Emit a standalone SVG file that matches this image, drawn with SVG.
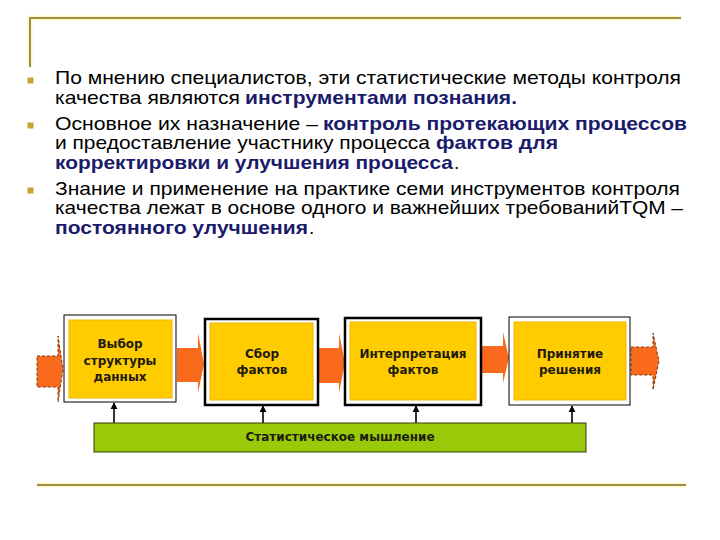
<svg xmlns="http://www.w3.org/2000/svg" width="720" height="540" viewBox="0 0 720 540">
  <defs>
    <style>
      .rule { stroke: #9A8E4A; stroke-width: 2; fill: none; }
      .glow { stroke: #FFF6B0; stroke-width: 5; fill: none; opacity: 0.7; }
      .bullet { fill: #C9A332; }
      .t { font-family: "Liberation Sans", Arial, sans-serif; font-size: 19px; fill: #000; }
      .b { font-family: "Liberation Sans", Arial, sans-serif; font-size: 19px; font-weight: bold; fill: #1B1B6B; }
      .outer { fill: #FFFFFF; stroke: #000; }
      .inner { fill: #FFCC00; stroke: #F2B500; stroke-width: 1; }
      .lbl { font-family: "DejaVu Sans", Verdana, sans-serif; font-size: 12px; font-weight: bold; fill: #1E1A10; text-anchor: middle; }
      .flow { fill: #F96A1C; }
      .dash { stroke: #7A3A14; stroke-width: 1; stroke-dasharray: 3 2; }
      .up { stroke: #000; stroke-width: 1.6; fill: none; marker-end: url(#ah); }
    </style>
    <marker id="ah" viewBox="0 0 10 10" refX="9" refY="5" markerWidth="4.5" markerHeight="4.5" orient="auto" markerUnits="strokeWidth">
      <path d="M0,0 L10,5 L0,10 Z" fill="#000"/>
    </marker>
  </defs>

  <rect x="0" y="0" width="720" height="540" fill="#FFFFFF"/>

  <!-- decorative rules -->
  <g id="rules">
    <path class="glow" d="M30,67 V18 H681"/>
    <path class="rule" d="M30,67 V18 H681"/>
    <line class="glow" x1="37" y1="485" x2="686" y2="485"/>
    <line class="rule" x1="37" y1="485" x2="686" y2="485"/>
  </g>

  <!-- bullets -->
  <g id="bullets">
    <rect class="bullet" x="27.5" y="77.5" width="6" height="6"/>
    <rect class="bullet" x="27.5" y="122.5" width="6" height="6"/>
    <rect class="bullet" x="27.5" y="187.5" width="6" height="6"/>
  </g>

  <!-- body text -->
  <g id="text">
    <text class="t" x="55" y="84" textLength="626" lengthAdjust="spacingAndGlyphs">По мнению специалистов, эти статистические методы контроля</text>
    <text class="t" x="55" y="104" textLength="185" lengthAdjust="spacingAndGlyphs">качества являются</text>
    <text class="b" x="245" y="104" textLength="272" lengthAdjust="spacingAndGlyphs">инструментами познания.</text>
    <text class="t" x="55" y="130" textLength="263" lengthAdjust="spacingAndGlyphs">Основное их назначение –</text>
    <text class="b" x="323" y="130" textLength="364" lengthAdjust="spacingAndGlyphs">контроль протекающих процессов</text>
    <text class="t" x="55" y="149" textLength="375" lengthAdjust="spacingAndGlyphs">и предоставление участнику процесса</text>
    <text class="b" x="436" y="149" textLength="122" lengthAdjust="spacingAndGlyphs">фактов для</text>
    <text class="b" x="55" y="169" textLength="398" lengthAdjust="spacingAndGlyphs">корректировки и улучшения процесса</text>
    <text class="t" x="454" y="169">.</text>
    <text class="t" x="55" y="195" textLength="625" lengthAdjust="spacingAndGlyphs">Знание и применение на практике семи инструментов контроля</text>
    <text class="t" x="55" y="214" textLength="628" lengthAdjust="spacingAndGlyphs">качества лежат в основе одного и важнейших требованийTQM –</text>
    <text class="b" x="55" y="234" textLength="253" lengthAdjust="spacingAndGlyphs">постоянного улучшения</text>
    <text class="t" x="309" y="234">.</text>
  </g>

  <!-- flow arrows and connectors -->
  <g id="connectors">
    <path class="flow dash" d="M37,356 H58 V336 L63,369 L58,402 V387 H37 Z"/>
    <path class="flow" d="M177,348 H198 V333 L204,364 L198,393 V382 H177 Z"/>
    <path class="flow" d="M318,348 H339 V333 L345,363 L339,393 V383 H318 Z"/>
    <path class="flow" d="M482,346 H503 V332 L509,358 L503,383 V373 H482 Z"/>
    <path class="flow dash" d="M631,347 H653 V333 L659,361 L653,390 V375 H631 Z"/>
    <line class="up" x1="114" y1="423" x2="114" y2="403"/>
    <line class="up" x1="263" y1="423" x2="263" y2="406"/>
    <line class="up" x1="416" y1="423" x2="416" y2="406"/>
    <line class="up" x1="572" y1="423" x2="572" y2="406"/>
  </g>

  <!-- nodes -->
  <g id="node-vybor">
    <rect class="outer" x="64" y="315" width="112" height="87" stroke-width="1"/>
    <rect class="inner" x="69" y="320" width="103" height="78"/>
    <text class="lbl" x="120" y="348">Выбор</text>
    <text class="lbl" x="120" y="365">структуры</text>
    <text class="lbl" x="120" y="381">данных</text>
  </g>
  <g id="node-sbor">
    <rect class="outer" x="205" y="319" width="113" height="86" stroke-width="2.5"/>
    <rect class="inner" x="210" y="323" width="103" height="77"/>
    <text class="lbl" x="262" y="358">Сбор</text>
    <text class="lbl" x="262" y="374">фактов</text>
  </g>
  <g id="node-interp">
    <rect class="outer" x="345" y="318" width="136" height="87" stroke-width="2.5"/>
    <rect class="inner" x="350" y="322" width="126" height="78"/>
    <text class="lbl" x="413" y="358">Интерпретация</text>
    <text class="lbl" x="413" y="374">фактов</text>
  </g>
  <g id="node-prinyatie">
    <rect class="outer" x="509" y="317" width="121" height="88" stroke-width="1"/>
    <rect class="inner" x="514" y="322" width="112" height="78"/>
    <text class="lbl" x="570" y="358">Принятие</text>
    <text class="lbl" x="570" y="374">решения</text>
  </g>
  <g id="node-stat">
    <rect x="94" y="423" width="492" height="29" fill="#99CA0A" stroke="#2E3A10" stroke-width="1"/>
    <text class="lbl" x="340" y="441">Статистическое мышление</text>
  </g>
</svg>
